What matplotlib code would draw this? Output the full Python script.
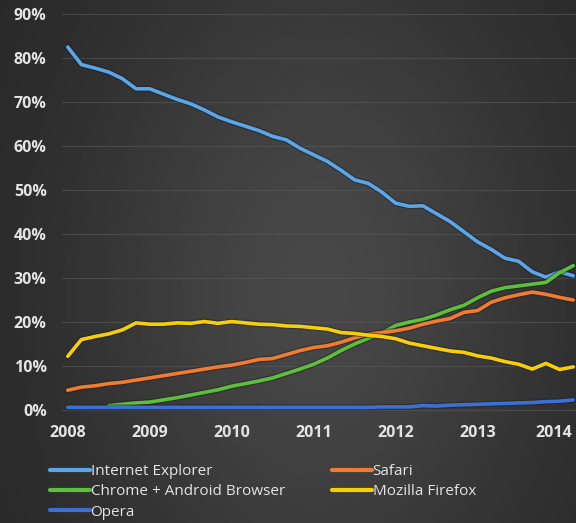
import matplotlib.pyplot as plt
import matplotlib.patheffects as pe
import matplotlib.transforms as mtransforms
import numpy as np

# bi-monthly samples, 2008.0 .. 2014.17
years = [2008 + i / 6 for i in range(38)]

ie = [82.5, 78.5, 77.7, 76.8, 75.3, 73.0,
      73.0, 71.8, 70.6, 69.6, 68.2, 66.6,
      65.5, 64.5, 63.5, 62.2, 61.4, 59.5,
      58.0, 56.5, 54.5, 52.3, 51.5, 49.5,
      47.0, 46.3, 46.4, 44.6, 42.8, 40.5,
      38.2, 36.5, 34.5, 33.8, 31.4, 30.2,
      31.4, 30.5]
safari = [4.5, 5.2, 5.5, 6.0, 6.3, 6.8,
          7.3, 7.8, 8.3, 8.8, 9.3, 9.8,
          10.2, 10.8, 11.5, 11.7, 12.6, 13.5,
          14.2, 14.6, 15.4, 16.4, 17.2, 17.6,
          18.0, 18.6, 19.5, 20.2, 20.8, 22.2,
          22.6, 24.5, 25.5, 26.2, 26.8, 26.3,
          25.6, 25.0]
chrome = [np.nan, np.nan, np.nan, 1.0, 1.3, 1.6,
          1.8, 2.3, 2.8, 3.4, 4.0, 4.6,
          5.4, 6.0, 6.6, 7.3, 8.3, 9.3,
          10.4, 11.8, 13.5, 15.0, 16.3, 17.5,
          19.2, 20.0, 20.6, 21.6, 22.8, 23.8,
          25.5, 27.0, 27.8, 28.2, 28.6, 29.0,
          31.2, 32.8]
firefox = [12.2, 16.0, 16.7, 17.3, 18.2, 19.8,
           19.5, 19.5, 19.8, 19.7, 20.1, 19.7,
           20.1, 19.8, 19.5, 19.4, 19.1, 19.0,
           18.7, 18.4, 17.6, 17.4, 17.0, 16.7,
           16.2, 15.2, 14.6, 14.0, 13.4, 13.1,
           12.3, 11.8, 11.0, 10.4, 9.3, 10.6,
           9.2, 9.8]
opera = [0.6, 0.6, 0.6, 0.6, 0.6, 0.6,
         0.6, 0.6, 0.6, 0.6, 0.6, 0.6,
         0.6, 0.6, 0.6, 0.6, 0.6, 0.6,
         0.6, 0.6, 0.6, 0.6, 0.6, 0.7,
         0.7, 0.7, 1.0, 0.9, 1.1, 1.2,
         1.3, 1.4, 1.5, 1.6, 1.7, 1.9,
         2.0, 2.3]

year_ticks = [2008, 2009, 2010, 2011, 2012, 2013, 2014]
pct_ticks = [0, 10, 20, 30, 40, 50, 60, 70, 80, 90]

series = [
    ("Internet Explorer", ie, "#5aa6ea"),
    ("Chrome + Android Browser", chrome, "#5cc03c"),
    ("Opera", opera, "#3d6fd4"),
    ("Safari", safari, "#f27b32"),
    ("Mozilla Firefox", firefox, "#f5cf0a"),
]

plt.rcParams['font.family'] = ['Open Sans', 'DejaVu Sans']
txt = "#e4e4e4"

fig = plt.figure(figsize=(5.76, 5.23), dpi=100)

# dark gradient backdrop
bg = fig.add_axes([0, 0, 1, 1])
gx = np.linspace(0, 1, 300)
gy = np.linspace(0, 1, 300)
X, Y = np.meshgrid(gx, gy)
shade = 0.15 + 0.13 * np.exp(-((X - 0.55) ** 2) / 0.18 - ((Y - 0.55) ** 2) / 0.5)
bg.imshow(shade, cmap="gray", vmin=0, vmax=1, aspect="auto", extent=[0, 1, 0, 1])
bg.axis("off")

ax = fig.add_axes([62 / 576, 1 - 416.6 / 523, 1 - 62 / 576, 407 / 523])
ax.patch.set_alpha(0)
for name, vals, col in series:
    ax.plot(years, vals, color=col, lw=2.6, label=name, solid_capstyle="round",
            path_effects=[pe.Stroke(linewidth=4.4, foreground="#1e1e1e", alpha=0.45), pe.Normal()])

ax.set_xlim(2007.93, 2014.2)
ax.set_ylim(-1.5, 91)
ax.set_xticks(year_ticks)
ax.set_xticklabels([str(y) for y in year_ticks])
ax.set_yticks(pct_ticks)
ax.set_yticklabels([f"{p}%" for p in pct_ticks])
ax.tick_params(length=0, colors=txt, labelsize=11.5, pad=11)
ax.tick_params(axis="x", pad=6)
for lab in ax.get_xticklabels() + ax.get_yticklabels():
    lab.set_fontweight("bold")
    lab.set_clip_on(False)
# keep the last year label inside the right edge
last = ax.get_xticklabels()[-1]
last.set_transform(last.get_transform() + mtransforms.ScaledTranslation(-4 / 72, 0, fig.dpi_scale_trans))
ax.grid(axis="y", color="#5a5a5a", lw=0.8, alpha=0.6)
for s in ax.spines.values():
    s.set_visible(False)

leg = fig.legend(loc="upper left", bbox_to_anchor=(44 / 576, 1 - 458 / 523), ncol=2,
                 frameon=False, fontsize=11, handlelength=2.6, handletextpad=0.05,
                 labelspacing=0.35, columnspacing=3.1, borderaxespad=0)
for t in leg.get_texts():
    t.set_color(txt)
for h in leg.get_lines():
    h.set_linewidth(3)
    h.set_path_effects([])

fig.savefig("out.png", dpi=100)
